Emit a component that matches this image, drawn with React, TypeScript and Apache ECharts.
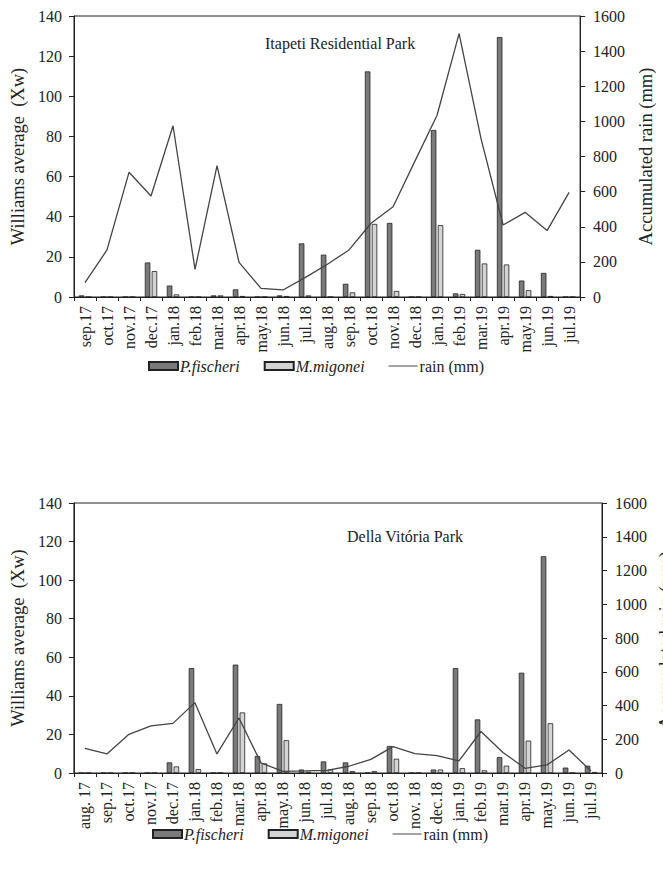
import React, { useEffect, useRef } from "react";
import * as echarts from "echarts";

const topMonths = ["sep.17","oct.17","nov.17","dec.17","jan.18","feb.18","mar.18","apr.18","may.18","jun.18","jul.18","aug.18","sep.18","oct.18","nov.18","dec.18","jan.19","feb.19","mar.19","apr.19","may.19","jun.19","jul.19"];
const topFischeri = [0.8,0,0,17.2,5.7,0,0.8,3.8,0,0.8,26.7,21.1,6.6,112.4,36.9,0,83.2,1.8,23.5,129.5,8.2,12,0];
const topMigonei = [0,0,0,12.9,1.3,0,0.8,0.5,0,0.5,0.8,0,2.3,36.4,3.0,0,35.8,1.5,16.7,16.2,3.4,0.5,0];
const topRain = [82,268,710,575,975,157,748,197,49,40,110,185,268,420,514,775,1035,1500,900,410,482,378,596];

const bottomMonths = ["aug. 17","sep.17","oct.17","nov.17","dec.17","jan.18","feb.18","mar.18","apr.18","may.18","jun.18","jul.18","aug.18","sep.18","oct.18","nov. 18","dec.18","jan.19","feb.19","mar.19","apr.19","may.19","jun.19","jul.19"];
const bottomFischeri = [0,0,0,0,5.5,54.4,0,56.2,8.8,35.8,1.8,6.0,5.5,0,14.0,0,1.8,54.4,27.8,8.2,52,112.4,2.8,3.8];
const bottomMigonei = [0,0,0,0,3.4,2.0,0,31.4,5.0,17.0,0.7,1.8,1.0,1.0,7.4,0,1.8,2.5,1.4,3.8,16.8,25.8,0,0.5];
const bottomRain = [146,113,229,279,294,417,113,326,60,10,12,16,40,81,156,115,103,72,246,122,28,48,136,12];

const SERIF = "'Liberation Serif', 'Times New Roman', Times, serif";
const TXT = "#222";
const RAIN_NAME = "Accumulated rain (mm)";

function yLeft(gridIndex: number) {
  return {
    type: "value", gridIndex, min: 0, max: 140, interval: 20,
    name: "Williams average  (Xw)", nameLocation: "middle", nameGap: 44, nameRotate: 90,
    nameTextStyle: { fontFamily: SERIF, fontSize: 18.5, color: TXT },
    axisLine: { show: true, lineStyle: { color: "#222", width: 1 } },
    axisTick: { show: true, length: 5, lineStyle: { color: "#222" } },
    axisLabel: { fontFamily: SERIF, fontSize: 16, color: TXT, margin: 12 },
    splitLine: { show: false },
  };
}
function yRight(gridIndex: number, name: string) {
  return {
    type: "value", gridIndex, min: 0, max: 1600, interval: 200, position: "right",
    name, nameLocation: "middle", nameGap: 52, nameRotate: 90,
    nameTextStyle: { fontFamily: SERIF, fontSize: 18.5, color: TXT },
    axisLine: { show: true, lineStyle: { color: "#222", width: 1 } },
    axisTick: { show: true, length: 5, lineStyle: { color: "#222" } },
    axisLabel: { fontFamily: SERIF, fontSize: 16, color: TXT, margin: 13, formatter: (v: number) => String(v) },
    splitLine: { show: false },
  };
}
function xAxis(gridIndex: number, data: string[]) {
  return {
    type: "category", gridIndex, data,
    axisLine: { show: true, lineStyle: { color: "#222", width: 1 } },
    axisTick: { show: true, length: 4, alignWithLabel: false, lineStyle: { color: "#222" } },
    axisLabel: { fontFamily: SERIF, fontSize: 16, color: TXT, rotate: 90, margin: 9, interval: 0 },
  };
}
function bars(name: string, data: number[], x: number, y: number, color: string) {
  return {
    name, type: "bar", xAxisIndex: x, yAxisIndex: y, data,
    barWidth: 5.5, barGap: "25%",
    itemStyle: { color, borderColor: "#222", borderWidth: 0.8 },
  };
}
function rain(data: number[], x: number, y: number) {
  return {
    name: "rain (mm)", type: "line", xAxisIndex: x, yAxisIndex: y, data,
    symbol: "none", lineStyle: { color: "#444", width: 1.3 }, itemStyle: { color: "#444" },
  };
}
function legend(top: number, left: number) {
  return {
    top, left, itemWidth: 29, itemHeight: 8, itemGap: 24,
    data: [
      { name: "P.fischeri", icon: "rect" },
      { name: "M.migonei", icon: "rect" },
      { name: "rain (mm)", icon: "path://M0,0 L60,0 L60,2 L0,2 Z", itemStyle: { color: "#444", borderWidth: 0 } },
    ],
    formatter: (n: string) => (n === "rain (mm)" ? n : "{i|" + n + "}"),
    textStyle: {
      fontFamily: SERIF, fontSize: 16, color: TXT, padding: [0, 0, 0, -3],
      rich: { i: { fontFamily: SERIF, fontSize: 16, fontStyle: "italic", color: TXT } },
    },
  };
}

export default function App() {
  const ref = useRef<HTMLDivElement>(null);
  useEffect(() => {
    if (!ref.current) return;
    const chart = echarts.init(ref.current, undefined, { renderer: "svg" });
    chart.setOption({
      animation: false,
      backgroundColor: "#fff",
      textStyle: { fontFamily: SERIF },
      title: [
        { text: "Itapeti Residential Park", left: 260, top: 30, textStyle: { fontFamily: SERIF, fontSize: 16, fontWeight: "normal", color: TXT } },
        { text: "Della Vitória Park", left: 342, top: 523, textStyle: { fontFamily: SERIF, fontSize: 16, fontWeight: "normal", color: TXT } },
      ],
      legend: [legend(353, 143), legend(821, 147)],
      grid: [
        { left: 74, top: 16, width: 513, height: 281, show: true, borderColor: "#222", borderWidth: 1 },
        { left: 72, top: 503, width: 530, height: 270, show: true, borderColor: "#222", borderWidth: 1 },
      ],
      xAxis: [xAxis(0, topMonths), xAxis(1, bottomMonths)],
      yAxis: [yLeft(0), yRight(0, RAIN_NAME), yLeft(1), yRight(1, "")],
      graphic: [
        {
          type: "text", x: 666, y: 640, rotation: Math.PI / 2,
          style: { text: RAIN_NAME, fontFamily: SERIF, fontSize: 18.5, fill: TXT, align: "center", verticalAlign: "middle" },
        },
      ],
      series: [
        bars("P.fischeri", topFischeri, 0, 0, "#7a7a7a"),
        bars("M.migonei", topMigonei, 0, 0, "#d4d4d4"),
        rain(topRain, 0, 1),
        bars("P.fischeri", bottomFischeri, 1, 2, "#7a7a7a"),
        bars("M.migonei", bottomMigonei, 1, 2, "#d4d4d4"),
        rain(bottomRain, 1, 3),
      ],
    });
    return () => chart.dispose();
  }, []);
  return <div ref={ref} style={{ position: "fixed", left: 0, top: 0, width: 663, height: 870 }} />;
}
